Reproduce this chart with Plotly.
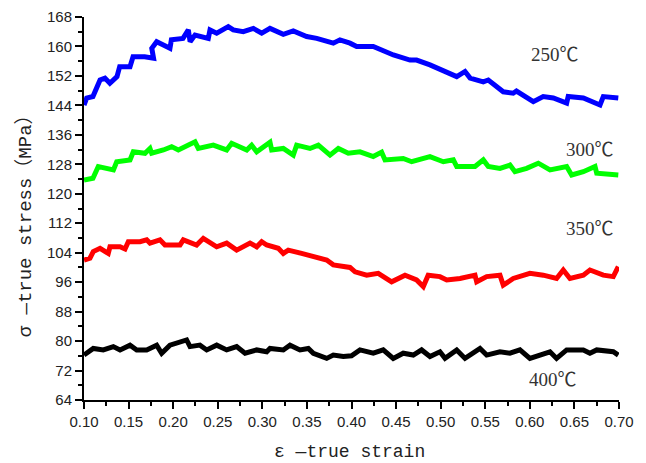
import plotly.graph_objects as go

# ---- data ----
x_250 = [0.100, 0.103, 0.110, 0.118, 0.1235, 0.129, 0.137, 0.140, 0.1516, 0.155, 0.168, 0.178, 0.176, 0.1815,
         0.189, 0.1964, 0.198, 0.211, 0.217, 0.219, 0.2245, 0.2394, 0.2413, 0.2488, 0.2618, 0.2674, 0.2786,
         0.2899, 0.2993, 0.3086, 0.3235, 0.3347, 0.3497, 0.361, 0.3796, 0.387, 0.3983, 0.4058, 0.4244, 0.4338,
         0.447, 0.4656, 0.473, 0.488, 0.5068, 0.518, 0.5273, 0.533, 0.5478, 0.5534, 0.5702, 0.5814, 0.585,
         0.6039, 0.615, 0.6263, 0.6413, 0.643, 0.660, 0.6787, 0.6824, 0.6992]
y_250 = [144.1, 146.0, 146.4, 150.9, 151.4, 150.0, 151.8, 154.5, 154.5, 157.2, 157.2, 156.8, 159.5, 161.3,
         160.4, 159.5, 161.8, 162.2, 164.5, 161.3, 163.1, 162.2, 164.5, 163.6, 165.4, 164.5, 164.0,
         164.9, 163.6, 164.9, 163.3, 164.2, 162.7, 162.2, 160.9, 161.8, 160.9, 160.0, 160.0, 159.0,
         157.7, 156.3, 156.3, 155.0, 153.2, 151.8, 153.2, 151.4, 150.4, 150.9, 147.7, 147.3, 147.9,
         145.0, 146.4, 146.0, 144.6, 146.4, 146.0, 144.1, 146.4, 146.0]

x_300 = [0.100, 0.110, 0.116, 0.1236, 0.133, 0.1367, 0.1516, 0.1553, 0.1684, 0.174, 0.1759, 0.189, 0.1983,
         0.2058, 0.2189, 0.2245, 0.2282, 0.245, 0.260, 0.2656, 0.2825, 0.288, 0.2937, 0.3086, 0.3105, 0.3235,
         0.3347, 0.3385, 0.3534, 0.3628, 0.3759, 0.3852, 0.3964, 0.4095, 0.4244, 0.4338, 0.4376, 0.458,
         0.4675, 0.488, 0.503, 0.5142, 0.518, 0.5385, 0.5478, 0.5534, 0.5665, 0.5777, 0.5833, 0.5964,
         0.6095, 0.6226, 0.6413, 0.6469, 0.660, 0.6731, 0.675, 0.6992]
y_300 = [123.7, 124.2, 127.4, 126.9, 126.5, 128.7, 129.2, 131.4, 131.0, 132.3, 131.0, 131.9, 132.8,
         131.9, 133.2, 134.1, 132.3, 133.2, 131.9, 133.7, 131.9, 133.2, 131.4, 134.0, 131.9, 132.3,
         130.5, 133.2, 132.3, 133.2, 130.5, 132.3, 131.0, 131.4, 130.1, 131.3, 129.2, 129.6,
         128.7, 130.1, 128.7, 129.2, 127.4, 127.4, 129.2, 127.4, 126.9, 127.8, 126.0, 126.9,
         128.3, 126.5, 127.4, 125.1, 126.0, 127.4, 125.6, 125.1]

x_350 = [0.100, 0.1067, 0.1104, 0.118, 0.1272, 0.1291, 0.1404, 0.146, 0.1497, 0.1628, 0.1703, 0.174, 0.1852,
         0.1908, 0.2077, 0.2114, 0.2263, 0.2338, 0.2488, 0.260, 0.2712, 0.2862, 0.2937, 0.2993, 0.3049,
         0.3179, 0.3235, 0.3291, 0.344, 0.357, 0.3722, 0.3796, 0.3908, 0.3983, 0.404, 0.417, 0.430, 0.445,
         0.460, 0.473, 0.4805, 0.486, 0.4992, 0.5068, 0.5217, 0.5385, 0.5404, 0.5516, 0.5665, 0.5702,
         0.5814, 0.6001, 0.6151, 0.630, 0.6375, 0.645, 0.660, 0.6674, 0.6824, 0.6936, 0.6992]
y_350 = [102.0, 102.5, 104.3, 105.2, 103.8, 105.6, 105.6, 105.0, 107.0, 107.0, 107.5, 106.6, 107.5,
         106.1, 106.1, 107.5, 106.1, 107.9, 105.6, 106.6, 104.7, 106.6, 105.6, 107.0, 106.1,
         105.2, 103.8, 104.7, 103.8, 102.9, 102.0, 100.7, 100.2, 100.0, 98.8, 97.9, 98.4, 96.1,
         97.9, 96.6, 94.8, 97.9, 97.5, 96.6, 97.0, 97.9, 96.1, 97.5, 97.9, 95.2,
         97.0, 98.4, 97.9, 97.0, 99.3, 97.0, 97.9, 99.3, 97.9, 97.5, 100.2]

x_400 = [0.100, 0.1104, 0.1216, 0.1329, 0.1404, 0.1516, 0.1591, 0.1703, 0.1815, 0.1871, 0.1964, 0.2039,
         0.2151, 0.2189, 0.230, 0.2376, 0.2488, 0.260, 0.2712, 0.2806, 0.2937, 0.3049, 0.3086, 0.3235,
         0.331, 0.3422, 0.3516, 0.3572, 0.3722, 0.3796, 0.3908, 0.4, 0.4095, 0.4244, 0.4356, 0.4468,
         0.458, 0.4693, 0.4786, 0.488, 0.4992, 0.5049, 0.518, 0.5273, 0.5441, 0.5516, 0.5665, 0.5777,
         0.5889, 0.6001, 0.6114, 0.6226, 0.630, 0.6413, 0.660, 0.6674, 0.675, 0.6936, 0.6992]
y_400 = [76.2, 78.0, 77.6, 78.5, 77.6, 78.9, 77.6, 77.6, 78.9, 76.7, 78.9, 79.4,
         80.3, 78.5, 78.9, 77.6, 78.9, 77.6, 78.5, 76.7, 77.6, 77.1, 78.0, 77.6,
         78.9, 77.6, 78.0, 76.7, 75.3, 76.2, 75.8, 76.0, 77.6, 76.7, 77.6, 75.3,
         76.7, 76.2, 77.6, 75.8, 77.1, 75.3, 77.6, 75.3, 78.0, 76.2, 77.1, 76.7,
         77.6, 75.3, 76.2, 77.1, 75.3, 77.6, 77.6, 76.7, 77.6, 77.1, 76.2]

series = [
    ("250℃", x_250, y_250, "#0000FF", 0.628, 157.7),
    ("300℃", x_300, y_300, "#00FF00", 0.6675, 131.9),
    ("350℃", x_350, y_350, "#FF0000", 0.6675, 110.7),
    ("400℃", x_400, y_400, "#000000", 0.626, 69.7),
]

fig = go.Figure()
for name, xs, ys, col, lx, ly in series:
    fig.add_trace(go.Scatter(x=xs, y=ys, mode="lines", name=name,
                             line=dict(color=col, width=5), showlegend=False))
    fig.add_annotation(x=lx, y=ly, xref="x", yref="y", text=name, showarrow=False,
                       font=dict(family="Liberation Serif, Noto Sans CJK SC", size=19, color="#333333"))

fig.add_annotation(x=0.497, y=-0.136, xref="paper", yref="paper", text="ε —true strain",
                   showarrow=False, xanchor="center", yanchor="middle",
                   font=dict(family="Liberation Mono, Noto Sans CJK SC", size=18, color="#222222"))
fig.add_annotation(x=-0.110, y=0.467, xref="paper", yref="paper", text="σ —true stress（MPa）",
                   showarrow=False, xanchor="center", yanchor="middle", textangle=-90,
                   font=dict(family="Liberation Mono, Noto Sans CJK SC", size=19, color="#222222"))

axis_common = dict(showline=True, linecolor="black", linewidth=2, ticks="outside",
                   tickcolor="black", tickwidth=1.5, ticklen=7, showgrid=False, zeroline=False,
                   mirror=False, automargin=False,
                   tickfont=dict(family="Liberation Sans, Arial", size=15, color="#222222"))

fig.update_xaxes(range=[0.1, 0.7], dtick=0.05, tick0=0.1, tickformat=".2f",
                 minor=dict(dtick=0.025, ticklen=4, ticks="outside", tickcolor="black", tickwidth=1.5),
                 **axis_common)
fig.update_yaxes(range=[64, 168], dtick=8, tick0=64,
                 minor=dict(dtick=4, ticklen=4, ticks="outside", tickcolor="black", tickwidth=1.5),
                 **axis_common)

fig.update_layout(width=646, height=463, margin=dict(l=84, r=27, t=17, b=63),
                  plot_bgcolor="white", paper_bgcolor="white")

fig.write_html("out.html", config={"displayModeBar": False},
               post_script="document.body.style.margin='0';document.body.style.overflow='hidden';")
